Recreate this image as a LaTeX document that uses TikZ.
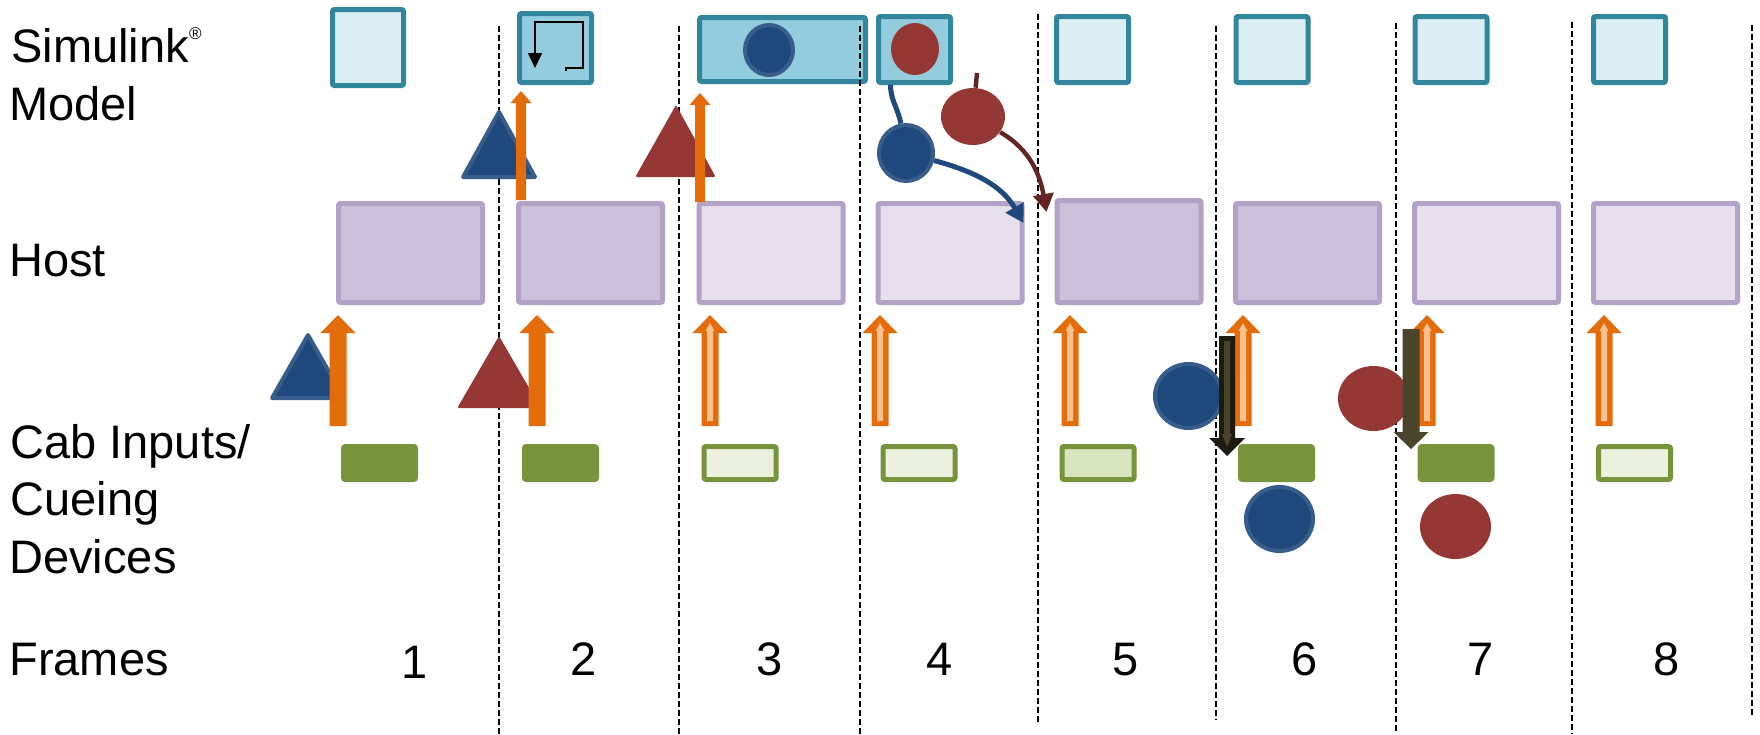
\documentclass[tikz,border=0pt]{standalone}
\usepackage{fontspec}
\setmainfont{Liberation Sans}
\usetikzlibrary{shapes.geometric,arrows.meta}

\definecolor{simEdge}{HTML}{31859C}
\definecolor{simIdle}{HTML}{DBEEF3}
\definecolor{simBusy}{HTML}{93CDDD}
\definecolor{hostEdge}{HTML}{B3A2C7}
\definecolor{hostBusy}{HTML}{CCC1DA}
\definecolor{hostIdle}{HTML}{E5E0EC}
\definecolor{cabGreen}{HTML}{77933C}
\definecolor{cabIdle}{HTML}{EBF1DE}
\definecolor{cabHalf}{HTML}{D7E4BD}
\definecolor{sigOrange}{HTML}{E46C0A}
\definecolor{sigLight}{HTML}{FAC090}
\definecolor{evBlue}{HTML}{1F497D}
\definecolor{evBlueRim}{HTML}{385D8A}
\definecolor{evRed}{HTML}{953735}
\definecolor{evRedDark}{HTML}{632523}
\definecolor{cueOlive}{HTML}{4A452A}
\definecolor{cueBlack}{HTML}{1D1B10}

% block arrow: colour, x, tail y, head base y, tip y, shaft half width, head half width
\newcommand{\blockarrow}[7]{%
  \fill[#1] (#2-#6,#3) -- (#2-#6,#4) -- (#2-#7,#4) -- (#2,#5)
    -- (#2+#7,#4) -- (#2+#6,#4) -- (#2+#6,#3) -- cycle;}

\begin{document}
\begin{tikzpicture}[x=0.5pt,y=-0.5pt,
    simbox/.style={draw=simEdge, line width=2.5pt, rounded corners=1pt,
      minimum width=36pt, minimum height=33pt, inner sep=0pt},
    simidle/.style={simbox, fill=simIdle},
    simbusy/.style={simbox, fill=simBusy},
    hostbox/.style={draw=hostEdge, line width=2.5pt, rounded corners=1pt,
      minimum width=72pt, minimum height=49.5pt, inner sep=0pt},
    hostbusy/.style={hostbox, fill=hostBusy},
    hostidle/.style={hostbox, fill=hostIdle},
    cabbox/.style={draw=cabGreen, line width=2.5pt, rounded corners=1pt,
      minimum width=36pt, minimum height=16.5pt, inner sep=0pt},
    cabon/.style={cabbox, fill=cabGreen},
    cabidle/.style={cabbox, fill=cabIdle},
    cabhalf/.style={cabbox, fill=cabHalf},
    blueev/.style={ellipse, fill=evBlue, draw=evBlueRim, line width=2pt, inner sep=0pt},
    redev/.style={ellipse, fill=evRed, inner sep=0pt},
    bluetri/.style={fill=evBlue, draw=evBlueRim, line width=2pt, line join=round},
    redtri/.style={fill=evRed, draw=evRed, line width=1pt, line join=round},
    rowlabel/.style={anchor=base west, inner sep=0pt, font=\fontsize{23.5pt}{28pt}\selectfont},
    framenum/.style={anchor=base, inner sep=0pt, font=\fontsize{23.5pt}{28pt}\selectfont},
    framesep/.style={dash pattern=on 3pt off 1.5pt, line width=0.9pt},
    bluelink/.style={evBlue, line width=2.5pt},
    redlink/.style={evRedDark, line width=2.2pt},
    linktip/.style={-{Triangle[width=10pt,length=9pt]}}]
  \useasboundingbox (0,0) rectangle (1760,734);

  % row labels
  \node[rowlabel] (lsim) at (11,62) {Simulink\raisebox{11.5pt}{\fontsize{8.5pt}{8.5pt}\selectfont\textregistered}};
  \node[rowlabel] (lmodel) at (9,120) {Model};
  \node[rowlabel] (lhost) at (9,276) {Host};
  \node[rowlabel] (lcab) at (10,458) {Cab Inputs/};
  \node[rowlabel] (lcue) at (10,515) {Cueing};
  \node[rowlabel] (ldev) at (9,573) {Devices};
  \node[rowlabel] (lframes) at (9,675) {Frames};

  % model steps
  \node[simidle, minimum width=35.5pt, minimum height=38pt] (s1) at (368,47.5) {};
  \node[simbusy, minimum height=34.5pt] (s2) at (555.5,48) {};
  \node[simbusy, minimum width=83pt, minimum height=32pt] (s3) at (782.5,49.5) {};
  \node[simbusy] (s4) at (914.5,49.5) {};
  \foreach \n/\x in {5/1092.5, 6/1272, 7/1451, 8/1629.5}
    \node[simidle] (s\n) at (\x,49.5) {};

  % host frames
  \foreach \n/\x/\s in {1/410.5/hostbusy, 2/590.5/hostbusy, 3/771/hostidle, 4/950/hostidle,
      6/1307.5/hostbusy, 7/1486.5/hostidle, 8/1665.5/hostidle}
    \node[\s] (h\n) at (\x,253) {};
  \node[hostbusy, minimum height=51pt] (h5) at (1129,251.5) {};

  % cab inputs / cueing
  \foreach \n/\x/\s in {1/379.5/cabon, 2/560.5/cabon, 3/740/cabidle, 4/919/cabidle,
      5/1098/cabhalf, 6/1276.5/cabon, 7/1456/cabon, 8/1634.5/cabidle}
    \node[\s] (c\n) at (\x,463) {};

  % frame boundaries
  \foreach \x/\a/\b in {499/26/734, 679/26/734, 860/26/734, 1038/14/722,
      1216/26/720, 1396/23/734, 1572/22/734, 1752/25/717}
    \draw[framesep] (\x,\a) -- (\x,\b);

  % loop icon
  \begin{scope}[shift={(s2.center)}]
    \draw[line width=0.85pt, -{Triangle[width=7pt,length=7.5pt]}]
      (10.5,23) -- (10.5,20) -- (27.5,20) -- (27.5,-26) -- (-20.5,-26) -- (-20.5,20);
  \end{scope}

  \node[blueev, minimum width=24pt, minimum height=25pt] (e3) at (769,50) {};
  \node[redev, minimum width=24pt, minimum height=26pt] (r4) at (915,49) {};

  % inputs travelling up
  \filldraw[bluetri] (499,112) -- (535,177) -- (463,177) -- cycle;
  \filldraw[redtri] (676,107) -- (714,176) -- (637,176) -- cycle;
  \filldraw[bluetri] (308,335) -- (344,398) -- (272,398) -- cycle;
  \filldraw[redtri] (499,338) -- (539,407) -- (459,407) -- cycle;
  \blockarrow{sigOrange}{521}{200}{103}{91}{5}{10.5}
  \blockarrow{sigOrange}{700}{202}{105}{93}{5}{10.5}
  \foreach \x in {338,537} {
    \blockarrow{sigOrange}{\x}{426}{333}{315}{8.5}{17.5}
  }
  \foreach \x in {710,880,1070,1243,1427,1604} {
    \blockarrow{sigOrange}{\x}{426}{333}{315}{8.5}{17.5}
    \blockarrow{sigLight}{\x}{421}{331}{323}{3}{4.5}
  }

  % outputs travelling down
  \node[blueev, minimum width=27pt, minimum height=28pt] (bm) at (906,153) {};
  \node[redev, minimum width=32pt, minimum height=28.5pt] (rm) at (973,116.5) {};
  \coordinate (rtop) at (977,73);
  \draw[bluelink] ([xshift=-12pt]s4.south) to[out=-90,in=100] (bm);
  \draw[bluelink, linktip] (bm) to[out=-15,in=120] ([xshift=-0.5pt,yshift=-11pt]h4.north east);
  \draw[redlink] (rtop) -- (rm);
  \draw[redlink, linktip] (rm) to[out=-30,in=100] ([xshift=-4pt,yshift=-7pt]h5.north west);

  \node[blueev, minimum width=33.5pt, minimum height=32pt] (b5) at (1188.5,396) {};
  \node[blueev, minimum width=33.5pt, minimum height=32pt] (b6) at (1279.5,519) {};
  \node[redev, minimum width=35.5pt, minimum height=32.5pt] (r6) at (1373.5,398.5) {};
  \node[redev, minimum width=35.5pt, minimum height=32.5pt] (r7) at (1455.5,526.5) {};
  \blockarrow{cueBlack}{1227}{336}{438}{456}{8}{18}
  \blockarrow{cueOlive}{1227}{341}{434}{447}{3}{5}
  \blockarrow{cueOlive}{1411}{329}{432}{449}{8.5}{17.5}

  % frame numbers
  \node[framenum] (f1) at (415,678) {1};
  \foreach \n/\x in {2/584, 3/770, 4/940, 5/1126, 6/1305, 7/1481, 8/1667}
    \node[framenum] (f\n) at (\x,675) {\n};
\end{tikzpicture}
\end{document}
